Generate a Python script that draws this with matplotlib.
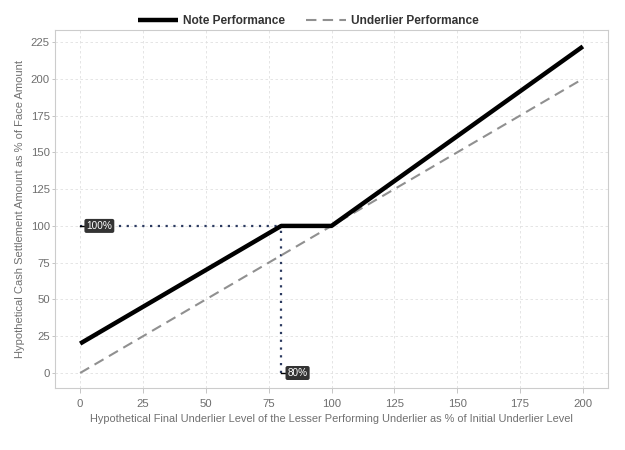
import matplotlib
matplotlib.use("Agg")
import matplotlib.pyplot as plt

plt.rcParams['font.family'] = ['Liberation Sans', 'DejaVu Sans']

underlier_x = [0, 80, 100, 200]
note_y = [20, 100, 100, 222]
underlier_y = [0, 80, 100, 200]
xticks = [0, 25, 50, 75, 100, 125, 150, 175, 200]
yticks = [0, 25, 50, 75, 100, 125, 150, 175, 200, 225]
barrier = 80
par = 100

fig = plt.figure(figsize=(6.25, 4.5), dpi=100)
ax = fig.add_axes([55/625, 1-388/450, (608-55)/625, (388-30)/450])

ax.set_xlim(-10, 210)
ax.set_ylim(-10.2, 233.2)
ax.set_xticks(xticks)
ax.set_yticks(yticks)
ax.grid(True, color='#e0e0e0', linestyle=(0, (3, 3)), linewidth=0.6)
ax.set_axisbelow(True)
for s in ax.spines.values():
    s.set_color('#cccccc')
    s.set_linewidth(0.8)
ax.tick_params(axis='y', colors='#bbbbbb', labelsize=8.2, length=2.2, width=0.6, pad=1.5)
ax.tick_params(axis='x', colors='#bbbbbb', labelsize=8.2, length=3.6, width=0.6, pad=4.1)
ax.tick_params(axis='both', labelcolor='#6e6e6e')

# reference lines
ax.plot([0, barrier], [par, par], color='#2b3a60', linestyle=(0, (1, 2.5)), linewidth=1.6)
ax.plot([barrier, barrier], [0, par], color='#2b3a60', linestyle=(0, (1, 2.5)), linewidth=1.6)

l2, = ax.plot(underlier_x, underlier_y, color='#909090', linestyle=(0, (5, 3)), linewidth=1.5,
              label='Underlier Performance')
l1, = ax.plot(underlier_x, note_y, color='black', linewidth=3.2, solid_capstyle='butt',
              label='Note Performance')

ax.plot([0, 2.5], [par, par], color='black', linewidth=1)
ax.text(2.5, par, '100%', fontsize=7.2, color='white', ha='left', va='center',
        bbox=dict(boxstyle='round,pad=0.2', fc='#333333', ec='none'))
ax.plot([barrier, barrier + 2.5], [0, 0], color='black', linewidth=1)
ax.text(barrier + 2.5, 0, '80%', fontsize=7.2, color='white', ha='left', va='center',
        bbox=dict(boxstyle='round,pad=0.2', fc='#333333', ec='none'))

ax.set_xlabel('Hypothetical Final Underlier Level of the Lesser Performing Underlier as % of Initial Underlier Level',
              fontsize=7.9, color='#707070', labelpad=4)
ax.set_ylabel('Hypothetical Cash Settlement Amount as % of Face Amount',
              fontsize=8, color='#707070')
ax.yaxis.set_label_coords(-0.054, 0.5)

fig.legend(handles=[l1, l2], loc='center', bbox_to_anchor=(308.5/625, 1-21/450), ncol=2,
           frameon=False, prop={'weight': 'bold', 'size': 8.6}, handlelength=3.35,
           handletextpad=0.45, columnspacing=1.7, labelcolor='#333333')

fig.savefig('out.png', dpi=100)
